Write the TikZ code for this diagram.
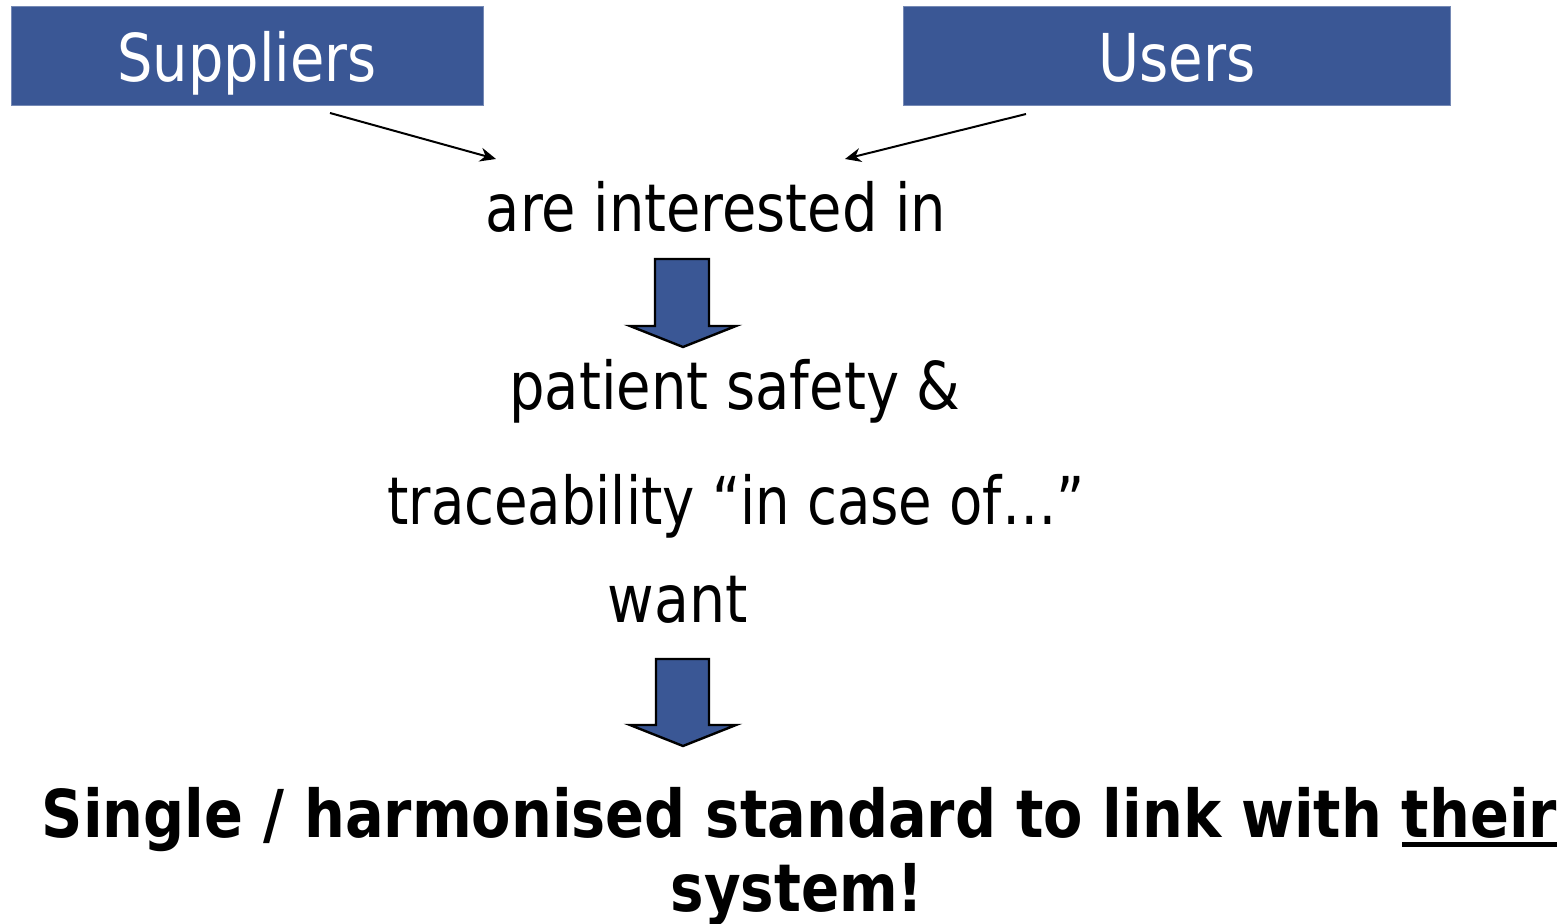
\documentclass[tikz,border=0pt]{standalone}
\usepackage{graphicx}
\usepackage{fontspec}
\setmainfont{DejaVu Sans Condensed}
\usetikzlibrary{arrows.meta}
\definecolor{boxblue}{HTML}{3A5795}
\newcommand\hsq[2]{\scalebox{#1}[1]{#2}}
\newcommand\thickul[1]{\vtop{\hbox{#1}\kern1.6pt\hrule height 2.4pt}}
\tikzset{
  hdr/.style={fill=boxblue, draw=boxblue!70!white, line width=0.5pt, inner sep=0pt},
  hdrtxt/.style={text=white, font=\fontsize{33}{36}\selectfont, inner sep=0pt, anchor=base},
  txt/.style={font=\fontsize{33}{36}\selectfont, inner sep=0pt, anchor=base},
  bold/.style={font=\bfseries\fontsize{33}{36}\selectfont, inner sep=0pt, anchor=base},
  thinarrow/.style={line width=1pt, -{Stealth[length=8pt,width=7pt]}},
  blockarrow/.style={fill=boxblue, draw=black, line width=1.2pt, line join=miter}
}
\begin{document}
\begin{tikzpicture}[x=0.5pt,y=-0.5pt]
\useasboundingbox (0,0) rectangle (1560,924);
% header boxes
\node[hdr, minimum width=236pt, minimum height=49.5pt] (sup) at (247,56.5) {};
\node[hdr, minimum width=273.5pt, minimum height=49.5pt] (usr) at (1176.5,56.5) {};
\node[hdrtxt] (suptxt) at (247,82) {\hsq{0.94}{Suppliers}};
\node[hdrtxt] (usrtxt) at (1177,82) {\hsq{0.945}{Users}};
% texts
\node[txt] (int) at (716,232) {\hsq{0.94}{are interested in}};
\node[txt] (pat) at (735,410) {\hsq{0.943}{patient safety \&}};
\node[txt] (tra) at (736,525) {\hsq{0.917}{traceability “in case of…”}};
\node[txt] (want) at (678,623) {\hsq{0.96}{want}};
\node[bold] (std) at (799.5,838) {\hsq{0.966}{Single / harmonised standard to link with \thickul{their}}};
\node[bold] (sys) at (797,912) {\hsq{0.947}{system!}};
% thin arrows
\coordinate (s1) at (330,113);
\coordinate (e1) at (496,159);
\coordinate (s2) at (1026,114);
\coordinate (e2) at (845,159);
\draw[thinarrow] (s1) -- (e1);
\draw[thinarrow] (s2) -- (e2);
% block arrows
\draw[blockarrow] (655,259) -- (709,259) -- (709,326) -- (736,326) -- (683,347) -- (630,326) -- (655,326) -- cycle;
\draw[blockarrow] (656,659) -- (709,659) -- (709,725) -- (736,725) -- (683,746) -- (630,725) -- (656,725) -- cycle;
\end{tikzpicture}
\end{document}
